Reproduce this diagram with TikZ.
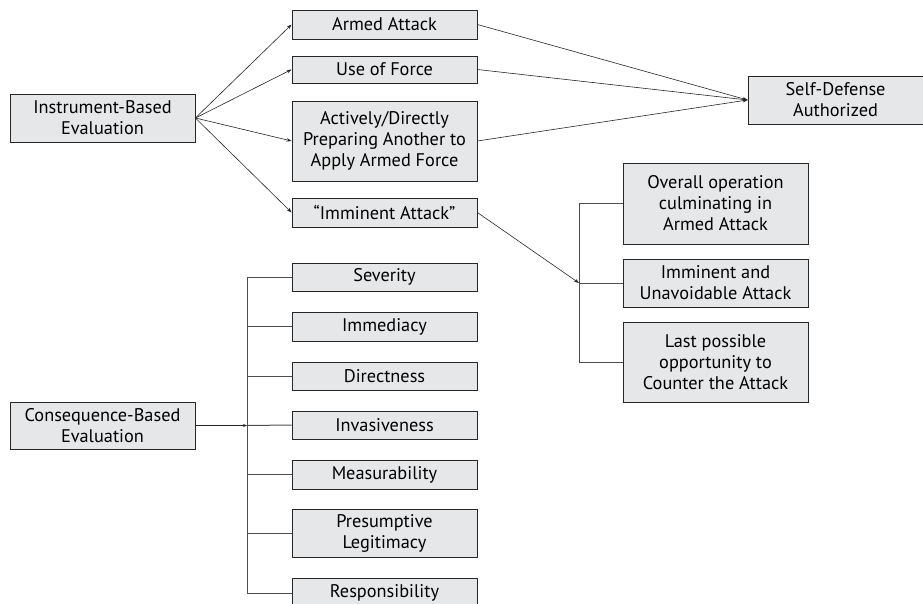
\documentclass[tikz,border=0pt]{standalone}
\usepackage{fontspec}
\setmainfont{PT Sans}
\usetikzlibrary{arrows.meta,positioning}
\definecolor{boxgray}{HTML}{E6E7E8}
\definecolor{linegray}{HTML}{4D4D4D}

\begin{document}
\begin{tikzpicture}[
      x=1pt,y=-1pt,
      arr/.style={-{Stealth[length=5pt,width=3.5pt]},draw=black!85,line width=.6pt},
      tree/.style={draw=linegray,line width=1pt},
      item/.style={draw=black!85,fill=boxgray,line width=.8pt,align=center,
        font=\fontsize{18.3}{21}\selectfont,inner sep=1pt,minimum width=185pt}]
    \useasboundingbox (0,0) rectangle (923,604);

    % instrument side
    \node[item,minimum height=48pt] (inst) at (102.5,118) {Instrument-Based\\Evaluation};
    \node[item,minimum height=29pt] (armed) at (384.5,24.5) {Armed Attack};
    \node[item,minimum height=27pt] (force) at (384.5,69.5) {Use of Force};
    \node[item,minimum height=80pt] (prep) at (384.5,141) {Actively/Directly\\Preparing Another to\\Apply Armed Force};
    \node[item,minimum height=29pt] (immi) at (384.5,212.5) {\textquotedblleft Imminent Attack\textquotedblright};
    \node[item,minimum height=48pt,minimum width=175pt] (selfdef) at (835.5,100) {Self-Defense\\Authorized};

    \draw[arr] (inst.east) -- (armed.west);
    \draw[arr] (inst.east) -- (force.west);
    \draw[arr] (inst.east) -- (prep.west);
    \draw[arr] (inst.east) -- (immi.west);
    \draw[arr] (armed.east) -- (selfdef.west);
    \draw[arr] (force.east) -- (selfdef.west);
    \draw[arr] (prep.east) -- (selfdef.west);

    % imminent attack criteria
    \node[item,minimum height=81pt] (oper) at (715.5,203.5) {Overall operation\\culminating in\\Armed Attack};
    \node[item,minimum height=48pt] (unav) at (715.5,283) {Imminent and\\Unavoidable Attack};
    \node[item,minimum height=80pt] (last) at (715.5,362) {Last possible\\opportunity to\\Counter the Attack};
    \coordinate (jn1) at (579,283);

    \draw[arr] (immi.east) -- (jn1);
    \draw[tree] (oper.west) -- (oper.west -| jn1) -- (last.west -| jn1) -- (last.west);
    \draw[tree] (jn1) -- (unav.west);

    % consequence side
    \node[item,minimum height=47pt] (cons) at (102.5,425.5) {Consequence-Based\\Evaluation};
    \node[item,minimum height=28pt] (sev) at (384.5,277) {Severity};
    \node[item,minimum height=29pt] (immed) at (384.5,326.5) {Immediacy};
    \node[item,minimum height=28pt] (direct) at (384.5,376) {Directness};
    \node[item,minimum height=28pt] (invas) at (384.5,425) {Invasiveness};
    \node[item,minimum height=29pt] (meas) at (384.5,474.5) {Measurability};
    \node[item,minimum height=48pt] (presum) at (384.5,533) {Presumptive\\Legitimacy};
    \node[item,minimum height=29pt] (resp) at (384.5,593) {Responsibility};
    \coordinate (jn2) at (247,425.5);

    \draw[arr,line width=.5pt,-{Stealth[length=4pt,width=3pt]}] (cons.east) -- (jn2);
    \draw[tree] (sev.west) -- (sev.west -| jn2) -- (resp.west -| jn2) -- (resp.west);
    \draw[tree] (immed.west) -- (immed.west -| jn2);
    \draw[tree] (direct.west) -- (direct.west -| jn2);
    \draw[tree] (jn2) -- (invas.west);
    \draw[tree] (meas.west) -- (meas.west -| jn2);
    \draw[tree] (presum.west) -- (presum.west -| jn2);
  \end{tikzpicture}
\end{document}
